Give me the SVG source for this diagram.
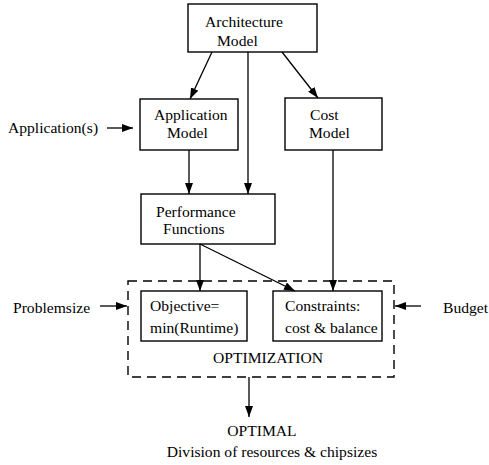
<svg xmlns="http://www.w3.org/2000/svg" width="489" height="465" viewBox="0 0 489 465">
<style>
.box{fill:#fff;stroke:#000;stroke-width:1.4}
.t{font-family:"Liberation Serif","Times New Roman","DejaVu Serif",serif;font-size:15.6px;fill:#000}
.c{stroke:#000;stroke-width:1.3;fill:none;marker-end:url(#ah)}
.dash{fill:none;stroke:#000;stroke-width:1.4;stroke-dasharray:9,6}
</style>
<defs>
<marker id="ah" viewBox="0 0 11 8" refX="11" refY="4" markerWidth="11" markerHeight="8" markerUnits="userSpaceOnUse" orient="auto">
<path d="M0,0 L11,4 L0,8 z" fill="#000"/>
</marker>
</defs>
<rect width="489" height="465" fill="#fff"/>
<g id="optimization">
<rect class="dash" x="128" y="281" width="266" height="96"/>
<text class="t" x="268" y="363" text-anchor="middle">OPTIMIZATION</text>
</g>
<g id="architecture">
<rect class="box" x="188" y="4" width="129" height="48"/>
<text class="t" x="205" y="27">Architecture</text>
<text class="t" x="217" y="46">Model</text>
</g>
<g id="application">
<rect class="box" x="140" y="99" width="98" height="51"/>
<text class="t" x="154" y="120">Application</text>
<text class="t" x="167" y="138">Model</text>
</g>
<g id="cost">
<rect class="box" x="285" y="98" width="97" height="52"/>
<text class="t" x="310" y="120">Cost</text>
<text class="t" x="309" y="138">Model</text>
</g>
<g id="performance">
<rect class="box" x="141" y="194" width="134" height="50"/>
<text class="t" x="156" y="217">Performance</text>
<text class="t" x="163" y="234">Functions</text>
</g>
<g id="objective">
<rect class="box" x="141" y="291" width="106" height="50"/>
<text class="t" x="150" y="311">Objective=</text>
<text class="t" x="150" y="333">min(Runtime)</text>
</g>
<g id="constraints">
<rect class="box" x="273" y="291" width="109" height="50"/>
<text class="t" x="285" y="311">Constraints:</text>
<text class="t" x="285" y="333">cost &amp; balance</text>
</g>
<g id="inputs">
<text class="t" x="8" y="133">Application(s)</text>
<text class="t" x="13" y="313">Problemsize</text>
<text class="t" x="443" y="313">Budget</text>
<text class="t" x="262" y="436" text-anchor="middle">OPTIMAL</text>
<text class="t" x="272" y="457" text-anchor="middle">Division of resources &amp; chipsizes</text>
</g>
<g id="connectors">
<line class="c" x1="212" y1="52" x2="190" y2="99"/>
<line class="c" x1="248" y1="52" x2="248" y2="194"/>
<line class="c" x1="282" y1="52" x2="318" y2="98"/>
<line class="c" x1="189" y1="150" x2="189" y2="194"/>
<line class="c" x1="333" y1="150" x2="333" y2="291"/>
<line class="c" x1="200" y1="244" x2="200" y2="291"/>
<line class="c" x1="200" y1="244" x2="295" y2="291"/>
<line class="c" x1="107" y1="128" x2="133" y2="128"/>
<line class="c" x1="100" y1="306" x2="127" y2="306"/>
<line class="c" x1="421" y1="306" x2="395" y2="306"/>
<line class="c" x1="249" y1="377" x2="249" y2="417"/>
</g>
</svg>
